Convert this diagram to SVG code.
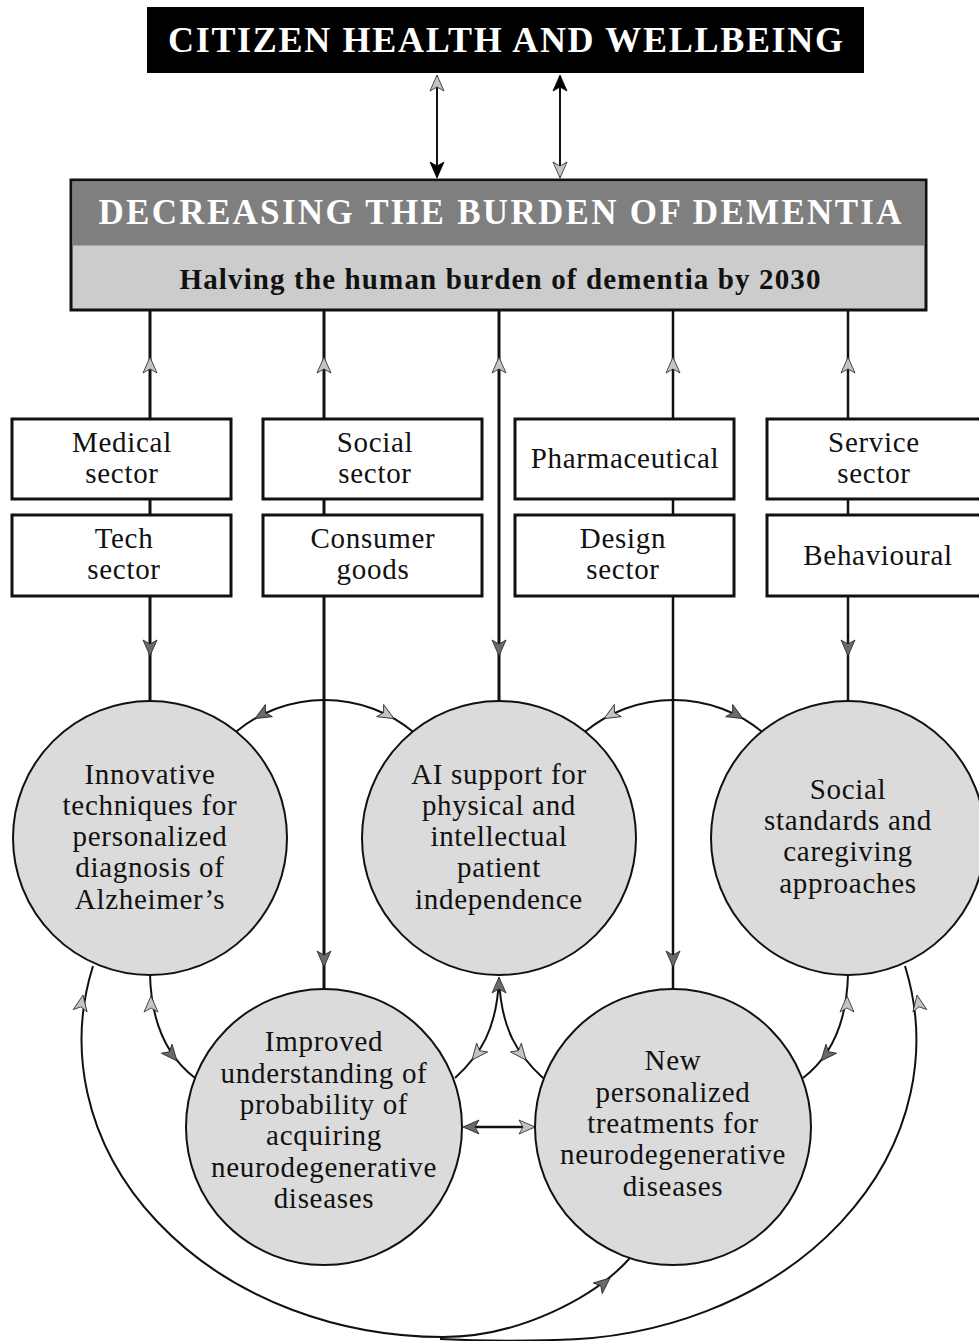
<svg xmlns="http://www.w3.org/2000/svg" xmlns:xlink="http://www.w3.org/1999/xlink" width="979" height="1341" viewBox="0 0 979 1341">
<style>
.t{font-family:"Liberation Serif","DejaVu Serif",serif;font-size:29px;letter-spacing:0.7px;fill:#111;text-anchor:middle}
.hd{font-family:"Liberation Serif","DejaVu Serif",serif;font-weight:bold;text-anchor:middle}
.box{fill:#fff;stroke:#111;stroke-width:3}
.circ{fill:#dbdbdb;stroke:#111;stroke-width:2}
.ln{fill:none;stroke:#111;stroke-width:2}
.lt{fill:none;stroke:#111;stroke-width:3}
</style>
<defs>
<path id="hl" d="M0,0 L-16,-7 L-12,0 L-16,7 Z" fill="#c4c4c4" stroke="#222" stroke-width="0.8"/>
<path id="hd" d="M0,0 L-16,-7 L-12,0 L-16,7 Z" fill="#6a6a6a" stroke="#222" stroke-width="0.8"/>
<path id="hb" d="M0,0 L-16,-7 L-12,0 L-16,7 Z" fill="#000" stroke="#000" stroke-width="0.8"/>
</defs>
<rect width="979" height="1341" fill="#fff"/>

<g id="connectors">
  <line class="ln" x1="437" y1="76" x2="437" y2="177"/>
  <line class="ln" x1="560" y1="76" x2="560" y2="177"/>
  <use xlink:href="#hl" transform="translate(437,75) rotate(-90)"/>
  <use xlink:href="#hb" transform="translate(437,178) rotate(90)"/>
  <use xlink:href="#hb" transform="translate(560,75) rotate(-90)"/>
  <use xlink:href="#hl" transform="translate(560,178) rotate(90)"/>

  <line class="lt" x1="150" y1="310" x2="150" y2="702"/>
  <line class="lt" x1="324" y1="310" x2="324" y2="990"/>
  <line class="lt" x1="499" y1="310" x2="499" y2="702"/>
  <line class="ln" x1="673" y1="310" x2="673" y2="990" style="stroke-width:2.5"/>
  <line class="ln" x1="848" y1="310" x2="848" y2="702" style="stroke-width:2.5"/>
  <use xlink:href="#hl" transform="translate(150,357) rotate(-90)"/>
  <use xlink:href="#hl" transform="translate(324,357) rotate(-90)"/>
  <use xlink:href="#hl" transform="translate(499,357) rotate(-90)"/>
  <use xlink:href="#hl" transform="translate(673,357) rotate(-90)"/>
  <use xlink:href="#hl" transform="translate(848,357) rotate(-90)"/>
  <use xlink:href="#hd" transform="translate(150,656) rotate(90)"/>
  <use xlink:href="#hd" transform="translate(499,656) rotate(90)"/>
  <use xlink:href="#hd" transform="translate(848,656) rotate(90)"/>
  <use xlink:href="#hd" transform="translate(324,967) rotate(90)"/>
  <use xlink:href="#hd" transform="translate(673,967) rotate(90)"/>

  <path class="ln" d="M235.7,732 A139,139 0 0 1 413.3,732"/>
  <path class="ln" d="M584.7,732 A139,139 0 0 1 762.3,732"/>
  <use xlink:href="#hd" transform="translate(255,718.6) rotate(150)"/>
  <use xlink:href="#hl" transform="translate(394,718.6) rotate(30)"/>
  <use xlink:href="#hl" transform="translate(604,718.6) rotate(150)"/>
  <use xlink:href="#hd" transform="translate(743,718.6) rotate(30)"/>

  <path class="ln" d="M150,974 C151,1020 165,1055 195,1078"/>
  <use xlink:href="#hl" transform="translate(151,996) rotate(-90)"/>
  <use xlink:href="#hd" transform="translate(177,1061) rotate(50)"/>
  <path class="ln" d="M848,974 C847,1020 833,1055 803,1078"/>
  <use xlink:href="#hl" transform="translate(847,996) rotate(-90)"/>
  <use xlink:href="#hd" transform="translate(821,1061) rotate(130)"/>
  <path class="ln" d="M499,978 C497,1030 480,1055 455,1078"/>
  <path class="ln" d="M499,978 C501,1030 518,1055 543,1078"/>
  <use xlink:href="#hd" transform="translate(499,977) rotate(-90)"/>
  <use xlink:href="#hl" transform="translate(472,1060) rotate(129)"/>
  <use xlink:href="#hl" transform="translate(526,1060) rotate(51)"/>
  <line class="ln" x1="465" y1="1127" x2="533" y2="1127" style="stroke-width:2.5"/>
  <use xlink:href="#hd" transform="translate(463,1127) rotate(180)"/>
  <use xlink:href="#hl" transform="translate(535,1127) rotate(0)"/>

  <path class="ln" d="M93,966 A362,297 0 0 0 443,1337 C520,1337 595,1297 630,1258"/>
  <use xlink:href="#hl" transform="translate(83,995) rotate(-80)"/>
  <use xlink:href="#hd" transform="translate(610,1278) rotate(-40)"/>
  <path class="ln" d="M905,966 A367,300 0 0 1 555,1340 C520,1341 480,1341 440,1339"/>
  <use xlink:href="#hl" transform="translate(917,995) rotate(-100)"/>
</g>

<g id="citizen">
  <rect x="147" y="7" width="717" height="66" fill="#000"/>
  <text class="hd" x="505.5" y="52" font-size="36" fill="#fff" textLength="675" lengthAdjust="spacing">CITIZEN HEALTH AND WELLBEING</text>
</g>

<g id="dementia">
  <rect x="71" y="180" width="855" height="130" fill="#cccccc" stroke="#111" stroke-width="3"/>
  <rect x="72.5" y="181.5" width="852" height="64" fill="#7f7f7f"/>
  <text class="hd" x="500" y="224" font-size="35" fill="#fff" textLength="803" lengthAdjust="spacing">DECREASING THE BURDEN OF DEMENTIA</text>
  <text class="hd" x="500" y="289" font-size="29" fill="#111" textLength="641" lengthAdjust="spacing">Halving the human burden of dementia by 2030</text>
</g>

<g id="medical"><rect class="box" x="12" y="419" width="219" height="80"/><text class="t" x="122" y="452">Medical</text><text class="t" x="122" y="483">sector</text></g>
<g id="tech"><rect class="box" x="12" y="515" width="219" height="81"/><text class="t" x="124" y="548">Tech</text><text class="t" x="124" y="579">sector</text></g>
<g id="social"><rect class="box" x="263" y="419" width="219" height="80"/><text class="t" x="375" y="452">Social</text><text class="t" x="375" y="483">sector</text></g>
<g id="consumer"><rect class="box" x="263" y="515" width="219" height="81"/><text class="t" x="373" y="548">Consumer</text><text class="t" x="373" y="579">goods</text></g>
<g id="pharma"><rect class="box" x="515" y="419" width="219" height="80"/><text class="t" x="625" y="468">Pharmaceutical</text></g>
<g id="design"><rect class="box" x="515" y="515" width="219" height="81"/><text class="t" x="623" y="548">Design</text><text class="t" x="623" y="579">sector</text></g>
<g id="service"><rect class="box" x="767" y="419" width="220" height="80"/><text class="t" x="874" y="452">Service</text><text class="t" x="874" y="483">sector</text></g>
<g id="behavioural"><rect class="box" x="767" y="515" width="220" height="81"/><text class="t" x="878" y="565">Behavioural</text></g>

<g id="innovative">
  <circle class="circ" cx="150" cy="838" r="137"/>
  <text class="t" x="150" y="784">Innovative</text>
  <text class="t" x="150" y="815">techniques for</text>
  <text class="t" x="150" y="846">personalized</text>
  <text class="t" x="150" y="877">diagnosis of</text>
  <text class="t" x="150" y="909">Alzheimer’s</text>
</g>
<g id="ai">
  <circle class="circ" cx="499" cy="838" r="137"/>
  <text class="t" x="499" y="784">AI support for</text>
  <text class="t" x="499" y="815">physical and</text>
  <text class="t" x="499" y="846">intellectual</text>
  <text class="t" x="499" y="877">patient</text>
  <text class="t" x="499" y="909">independence</text>
</g>
<g id="socialstd">
  <circle class="circ" cx="848" cy="838" r="137"/>
  <text class="t" x="848" y="799">Social</text>
  <text class="t" x="848" y="830">standards and</text>
  <text class="t" x="848" y="861">caregiving</text>
  <text class="t" x="848" y="893">approaches</text>
</g>
<g id="improved">
  <circle class="circ" cx="324" cy="1127" r="138"/>
  <text class="t" x="324" y="1051">Improved</text>
  <text class="t" x="324" y="1083">understanding of</text>
  <text class="t" x="324" y="1114">probability of</text>
  <text class="t" x="324" y="1145">acquiring</text>
  <text class="t" x="324" y="1177">neurodegenerative</text>
  <text class="t" x="324" y="1208">diseases</text>
</g>
<g id="treatments">
  <circle class="circ" cx="673" cy="1127" r="138"/>
  <text class="t" x="673" y="1070">New</text>
  <text class="t" x="673" y="1102">personalized</text>
  <text class="t" x="673" y="1133">treatments for</text>
  <text class="t" x="673" y="1164">neurodegenerative</text>
  <text class="t" x="673" y="1196">diseases</text>
</g>
</svg>
